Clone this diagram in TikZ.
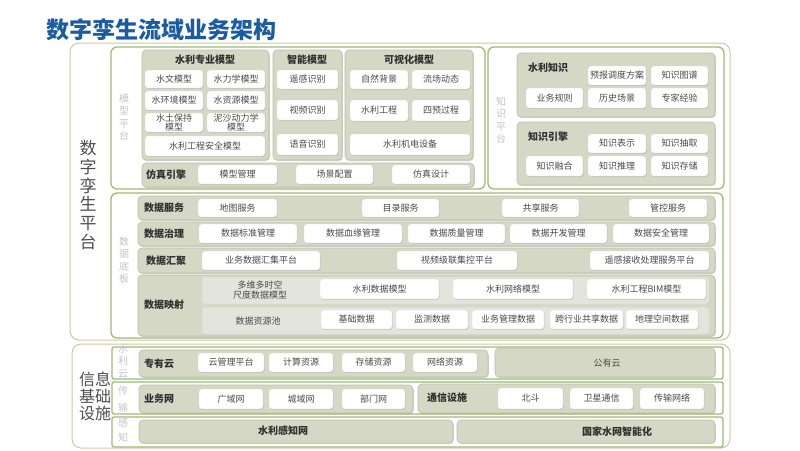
\documentclass[tikz,border=0pt]{standalone}
\usepackage{fontspec}
\setmainfont{Noto Sans CJK SC}
\usetikzlibrary{shadows}
\definecolor{tanc}{HTML}{CFC7A6}
\definecolor{greenc}{HTML}{9EBB72}
\definecolor{contf}{HTML}{D4D8C4}
\definecolor{contd}{HTML}{BCC0AA}
\definecolor{lightf}{HTML}{E3E5DC}
\definecolor{boxt}{HTML}{4A4A4A}
\definecolor{labt}{HTML}{303030}
\definecolor{faint}{HTML}{C4C4C4}
\definecolor{titleb}{HTML}{1A5CA3}
\newcommand\mkbox[7]{\pgfmathsetmacro\mkbw{#5-#3}\pgfmathsetmacro\mkbh{#6-#4}\node[#1,minimum width=\mkbw pt,minimum height=\mkbh pt] (#2) at ({(#3+#5)/2},{(#4+#6)/2}) {#7};}
\begin{document}
\begin{tikzpicture}[x=1pt,y=-1pt,
  tanframe/.style={draw=tanc,line width=1pt,rounded corners=9pt,fill=white,inner sep=0},
  gframe/.style={draw=greenc,line width=1.3pt,rounded corners=6pt,fill=white,inner sep=0},
  rowframe/.style={draw=greenc,line width=1.3pt,rounded corners=2pt,fill=white,inner sep=0},
  cont/.style={fill=contf,draw=contd,line width=0.6pt,rounded corners=4pt,inner sep=0,
    drop shadow={shadow xshift=0.8pt,shadow yshift=-1pt,opacity=0.35,fill=gray}},
  lcont/.style={fill=lightf,draw=contd!60,line width=0.5pt,rounded corners=3pt,inner sep=0},
  wbox/.style={fill=white,draw=gray!25,line width=0.4pt,rounded corners=3pt,inner sep=0,
    font=\fontsize{9}{9.6}\selectfont,text=boxt,align=center,
    drop shadow={shadow xshift=0.7pt,shadow yshift=-0.9pt,opacity=0.3,fill=gray}},
  lab/.style={font=\bfseries\fontsize{10}{11}\selectfont,text=labt,inner sep=0},
  plain/.style={font=\fontsize{9}{10.5}\selectfont,text=boxt,inner sep=0,align=center},
  faintlab/.style={font=\fontsize{10}{12.5}\selectfont,text=faint,align=center,inner sep=0},
  bigl/.style={font=\fontsize{17}{18.7}\selectfont,text=labt!85,align=center,inner sep=0}
]
\useasboundingbox (0,0) rectangle (800,450);
\node[anchor=west,font=\bfseries\fontsize{23}{25}\selectfont,text=titleb,inner sep=0] (title) at (46,30) {数字孪生流域业务架构};

% ===== digital twin platform =====
\mkbox{tanframe}{fdt}{70}{43}{730}{340}{}
\node[bigl] (ldt) at (88,195) {数\\字\\孪\\生\\平\\台};

% model platform
\mkbox{gframe}{fmp}{111}{47}{485}{189}{}
\node[faintlab] (lmp) at (124,117) {模\\型\\平\\台};
\mkbox{cont}{cwrm}{142}{50}{269}{160}{}
\node[lab] (twrm) at (205,60) {水利专业模型};
\mkbox{wbox}{b1}{145}{70}{203}{88}{水文模型}
\mkbox{wbox}{b2}{207}{70}{265}{88}{水力学模型}
\mkbox{wbox}{b3}{145}{91}{203}{110}{水环境模型}
\mkbox{wbox}{b4}{207}{91}{265}{110}{水资源模型}
\mkbox{wbox}{b5}{145}{113}{203}{132}{水土保持\\模型}
\mkbox{wbox}{b6}{207}{113}{265}{132}{泥沙动力学\\模型}
\mkbox{wbox}{b7}{145}{136}{265}{156}{水利工程安全模型}
\mkbox{cont}{cint}{273}{50}{342}{160}{}
\node[lab] (tint) at (307,60) {智能模型};
\mkbox{wbox}{b8}{277}{70}{338}{89}{遥感识别}
\mkbox{wbox}{b9}{277}{100}{338}{120}{视频识别}
\mkbox{wbox}{b10}{277}{134}{338}{155}{语音识别}
\mkbox{cont}{cvis}{345}{50}{473}{160}{}
\node[lab] (tvis) at (409,60) {可视化模型};
\mkbox{wbox}{b11}{350}{70}{408}{89}{自然背景}
\mkbox{wbox}{b12}{412}{70}{470}{89}{流场动态}
\mkbox{wbox}{b13}{350}{100}{408}{121}{水利工程}
\mkbox{wbox}{b14}{412}{100}{470}{121}{四预过程}
\mkbox{wbox}{b15}{350}{134}{470}{155}{水利机电设备}
\mkbox{cont}{csim}{142}{163}{474}{187}{}
\node[lab] (tsim) at (166,175) {仿真引擎};
\mkbox{wbox}{b16}{198}{165}{277}{184}{模型管理}
\mkbox{wbox}{b17}{296}{165}{373}{184}{场景配置}
\mkbox{wbox}{b18}{392}{165}{470}{184}{仿真设计}

% knowledge platform
\mkbox{gframe}{fkp}{488}{47}{724}{189}{}
\node[faintlab] (lkp) at (501,120) {知\\识\\平\\台};
\mkbox{cont}{cwk}{517}{53}{715}{117}{}
\node[lab] (twk) at (548,68) {水利知识};
\mkbox{wbox}{k1}{588}{66}{646}{85}{预报调度方案}
\mkbox{wbox}{k2}{651}{66}{708}{85}{知识图谱}
\mkbox{wbox}{k3}{526}{88}{583}{108}{业务规则}
\mkbox{wbox}{k4}{588}{88}{646}{108}{历史场景}
\mkbox{wbox}{k5}{651}{88}{708}{108}{专家经验}
\mkbox{cont}{cke}{517}{122}{715}{185}{}
\node[lab] (tke) at (548,137) {知识引擎};
\mkbox{wbox}{k6}{588}{134}{646}{153}{知识表示}
\mkbox{wbox}{k7}{651}{134}{708}{153}{知识抽取}
\mkbox{wbox}{k8}{526}{156}{583}{176}{知识融合}
\mkbox{wbox}{k9}{588}{156}{646}{176}{知识推理}
\mkbox{wbox}{k10}{651}{156}{708}{176}{知识存储}

% data base plate
\mkbox{gframe}{fdb}{111}{193}{723}{338}{}
\node[faintlab] (ldb) at (124,260) {数\\据\\底\\板};
\mkbox{cont}{cds}{138}{196}{715}{220}{}
\node[lab] (tds) at (164,208) {数据服务};
\mkbox{wbox}{d1}{198}{199}{277}{217}{地图服务}
\mkbox{wbox}{d2}{362}{199}{439}{217}{目录服务}
\mkbox{wbox}{d3}{502}{199}{579}{217}{共享服务}
\mkbox{wbox}{d4}{629}{199}{707}{217}{管控服务}
\mkbox{cont}{cdg}{138}{222}{715}{246}{}
\node[lab] (tdg) at (164,234) {数据治理};
\mkbox{wbox}{d5}{199}{224}{297}{243}{数据标准管理}
\mkbox{wbox}{d6}{304}{224}{402}{243}{数据血缘管理}
\mkbox{wbox}{d7}{408}{224}{505}{243}{数据质量管理}
\mkbox{wbox}{d8}{510}{224}{607}{243}{数据开发管理}
\mkbox{wbox}{d9}{613}{224}{709}{243}{数据安全管理}
\mkbox{cont}{cdc}{138}{248}{715}{273}{}
\node[lab] (tdc) at (166,261) {数据汇聚};
\mkbox{wbox}{d10}{202}{251}{320}{270}{业务数据汇集平台}
\mkbox{wbox}{d11}{397}{251}{517}{270}{视频级联集控平台}
\mkbox{wbox}{d12}{590}{251}{709}{270}{遥感接收处理服务平台}
\mkbox{cont}{cdm}{138}{275}{715}{336}{}
\node[lab] (tdm) at (164,305) {数据映射};
\mkbox{lcont}{cdm1}{202}{277}{709}{304}{}
\node[plain] (tdm1) at (260,290) {多维多时空\\尺度数据模型};
\mkbox{wbox}{d13}{320}{279}{439}{299}{水利数据模型}
\mkbox{wbox}{d14}{453}{279}{573}{299}{水利网络模型}
\mkbox{wbox}{d15}{587}{279}{706}{299}{水利工程BIM模型}
\mkbox{lcont}{cdm2}{202}{307}{709}{334}{}
\node[plain] (tdm2) at (258,321) {数据资源池};
\mkbox{wbox}{d16}{321}{310}{392}{329}{基础数据}
\mkbox{wbox}{d17}{396}{310}{468}{329}{监测数据}
\mkbox{wbox}{d18}{472}{310}{544}{329}{业务管理数据}
\mkbox{wbox}{d19}{550}{310}{623}{329}{跨行业共享数据}
\mkbox{wbox}{d20}{626}{310}{698}{329}{地理空间数据}

% ===== information infrastructure =====
\mkbox{tanframe}{fin}{72}{344}{730}{448}{}
\node[font=\fontsize{16}{17}\selectfont,text=labt!85,align=center,inner sep=0] (lin) at (95,396) {信息\\基础\\设施};
\mkbox{rowframe}{fcl}{112}{347}{723}{379}{}
\node[faintlab] (lcl) at (123,361) {水\\利\\云};
\mkbox{cont}{cpc}{139}{350}{488}{377}{}
\node[lab] (tpc) at (159,364) {专有云};
\mkbox{wbox}{i1}{198}{353}{264}{372}{云管理平台}
\mkbox{wbox}{i2}{269}{353}{333}{372}{计算资源}
\mkbox{wbox}{i3}{342}{353}{405}{372}{存储资源}
\mkbox{wbox}{i4}{413}{353}{477}{372}{网络资源}
\mkbox{cont}{cpub}{495}{348}{715}{377}{}
\node[plain] (tpub) at (607,363) {公有云};
\mkbox{rowframe}{ftr}{112}{382}{723}{414}{}
\node[font=\fontsize{10}{17}\selectfont,text=faint,align=center,inner sep=0] (ltr) at (123,399) {传\\输};
\mkbox{cont}{cbn}{139}{385}{413}{413}{}
\node[lab] (tbn) at (159,399) {业务网};
\mkbox{wbox}{i5}{199}{389}{263}{409}{广域网}
\mkbox{wbox}{i6}{269}{389}{333}{409}{城域网}
\mkbox{wbox}{i7}{342}{389}{405}{409}{部门网}
\mkbox{cont}{ccf}{418}{384}{715}{413}{}
\node[lab] (tcf) at (447,398) {通信设施};
\mkbox{wbox}{i8}{498}{388}{563}{409}{北斗}
\mkbox{wbox}{i9}{570}{388}{633}{409}{卫星通信}
\mkbox{wbox}{i10}{640}{388}{704}{409}{传输网络}
\mkbox{rowframe}{fse}{112}{417}{723}{447}{}
\node[font=\fontsize{10}{15}\selectfont,text=faint,align=center,inner sep=0] (lse) at (123,430) {感\\知};
\mkbox{cont}{csn}{139}{420}{453}{443}{}
\node[lab] (tsn) at (283,431) {水利感知网};
\mkbox{cont}{cnw}{457}{420}{715}{443}{}
\node[lab] (tnw) at (617,432) {国家水网智能化};
\end{tikzpicture}
\end{document}
